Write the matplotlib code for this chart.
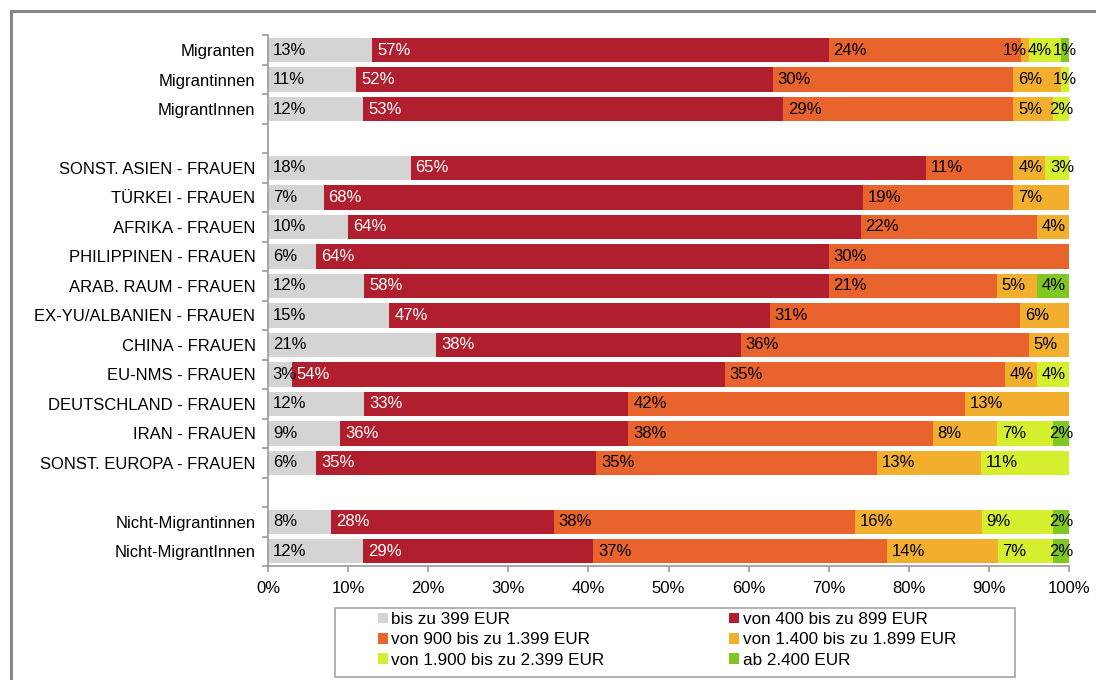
import matplotlib
matplotlib.use("Agg")
import matplotlib.pyplot as plt
from matplotlib.patches import Rectangle, Patch
import numpy as np

plt.rcParams.update({
    "font.family": ["Liberation Sans", "DejaVu Sans"],
    "font.size": 12,
})

# rows from top to bottom; None = empty spacer row
rows = [
    "Migranten", "Migrantinnen", "MigrantInnen", None,
    "SONST. ASIEN - FRAUEN", "TÜRKEI - FRAUEN", "AFRIKA - FRAUEN",
    "PHILIPPINEN - FRAUEN", "ARAB. RAUM - FRAUEN", "EX-YU/ALBANIEN - FRAUEN",
    "CHINA - FRAUEN", "EU-NMS - FRAUEN", "DEUTSCHLAND - FRAUEN",
    "IRAN - FRAUEN", "SONST. EUROPA - FRAUEN", None,
    "Nicht-Migrantinnen", "Nicht-MigrantInnen",
]

series_names = [
    "bis zu 399 EUR", "von 400 bis zu 899 EUR", "von 900 bis zu 1.399 EUR",
    "von 1.400 bis zu 1.899 EUR", "von 1.900 bis zu 2.399 EUR", "ab 2.400 EUR",
]
colors = ["#D4D4D4", "#B11E2E", "#E9632C", "#F2AE2D", "#D5EF2F", "#80C722"]

# percentages per row (same order as rows, spacer rows = zeros)
bis_399    = [13, 11, 12, 0, 18,  7, 10,  6, 12, 15, 21,  3, 12,  9,  6, 0,  8, 12]
v400_899   = [57, 52, 53, 0, 65, 68, 64, 64, 58, 47, 38, 54, 33, 36, 35, 0, 28, 29]
v900_1399  = [24, 30, 29, 0, 11, 19, 22, 30, 21, 31, 36, 35, 42, 38, 35, 0, 38, 37]
v1400_1899 = [ 1,  6,  5, 0,  4,  7,  4,  0,  5,  6,  5,  4, 13,  8, 13, 0, 16, 14]
v1900_2399 = [ 4,  1,  2, 0,  3,  0,  0,  0,  0,  0,  0,  4,  0,  7, 11, 0,  9,  7]
ab_2400    = [ 1,  0,  0, 0,  0,  0,  0,  0,  4,  0,  0,  0,  0,  2,  0, 0,  2,  2]

data = np.array([bis_399, v400_899, v900_1399, v1400_1899, v1900_2399, ab_2400], dtype=float)
totals = data.sum(axis=0)
totals[totals == 0] = 1
shares = data / totals * 100  # 100% stacked

W, H = 1096, 680
fig = plt.figure(figsize=(W / 100, H / 100), dpi=100)
ax = fig.add_axes([268 / W, 1 - 566 / H, (1069 - 268) / W, (566 - 35.3) / H])

y = np.arange(len(rows))
left = np.zeros(len(rows))
bars_lefts = []
for k in range(len(series_names)):
    ax.barh(y, shares[k], left=left, height=0.83, color=colors[k], label=series_names[k])
    bars_lefts.append(left.copy())
    left = left + shares[k]

ax.set_xlim(0, 100)
ax.set_ylim(len(rows) - 0.5, -0.5)

# value labels
fig.canvas.draw()
renderer = fig.canvas.get_renderer()
inv = ax.transData.inverted()
for i in range(len(rows)):
    if rows[i] is None:
        continue
    texts = []
    for k in range(len(series_names)):
        v = data[k, i]
        if v <= 0:
            continue
        l, w = bars_lefts[k][i], shares[k, i]
        col = "white" if k == 1 else "black"
        if v <= 2:
            t = ax.text(l + w / 2, i, f"{int(v)}%", ha="center", va="center", color=col)
        else:
            t = ax.text(l + 0.6, i, f"{int(v)}%", ha="left", va="center", color=col)
        texts.append(t)
    # push labels leftwards where they would collide, right to left
    limit = None
    for t in reversed(texts):
        bb = t.get_window_extent(renderer)
        x0 = inv.transform((bb.x0, 0))[0]
        x1 = inv.transform((bb.x1, 0))[0]
        if limit is not None and x1 > limit - 0.1:
            shift = x1 - (limit - 0.1)
            t.set_x(t.get_position()[0] - shift)
            x0 -= shift
        limit = x0

# axes styling
for s in ["top", "right"]:
    ax.spines[s].set_visible(False)
for s in ["left", "bottom"]:
    ax.spines[s].set_color("#9A9A9A")
    ax.spines[s].set_linewidth(1.2)

ax.set_yticks([i for i in y if rows[i] is not None])
ax.set_yticklabels([r for r in rows if r is not None])
ax.set_yticks(np.arange(-0.5, len(rows), 1.0), minor=True)
ax.tick_params(axis="y", which="major", length=0, pad=9)
ax.tick_params(axis="y", which="minor", length=4, color="#9A9A9A", width=1.2, direction="out")

ax.set_xticks(np.arange(0, 101, 10))
ax.set_xticklabels([f"{t}%" for t in range(0, 101, 10)])
ax.tick_params(axis="x", length=4, color="#9A9A9A", width=1.2, pad=7)

# legend (row-major order in two columns)
order = [0, 2, 4, 1, 3, 5]
handles = [Patch(facecolor=colors[k], edgecolor="none") for k in order]
labels = [series_names[k] for k in order]
fig.legend(handles, labels, ncol=2, frameon=False, loc="upper left", fontsize=12.3,
           bbox_to_anchor=(366 / W, 1 - 600 / H), handlelength=0.6, handleheight=0.6,
           handletextpad=0.18, labelspacing=0.32, columnspacing=7.3, borderpad=0.2)
fig.patches.append(Rectangle((335 / W, 1 - 677 / H), (1015 - 335) / W, (677 - 608) / H,
                             transform=fig.transFigure, fill=False,
                             edgecolor="#A6A6A6", linewidth=1.2))

# outer frame (cut off on the right and bottom)
fig.patches.append(Rectangle((11.3 / W, -20 / H), 1.2, (H - 10.7 + 20) / H,
                             transform=fig.transFigure, fill=False,
                             edgecolor="#888888", linewidth=2.2))

fig.savefig("out.png", dpi=100)
